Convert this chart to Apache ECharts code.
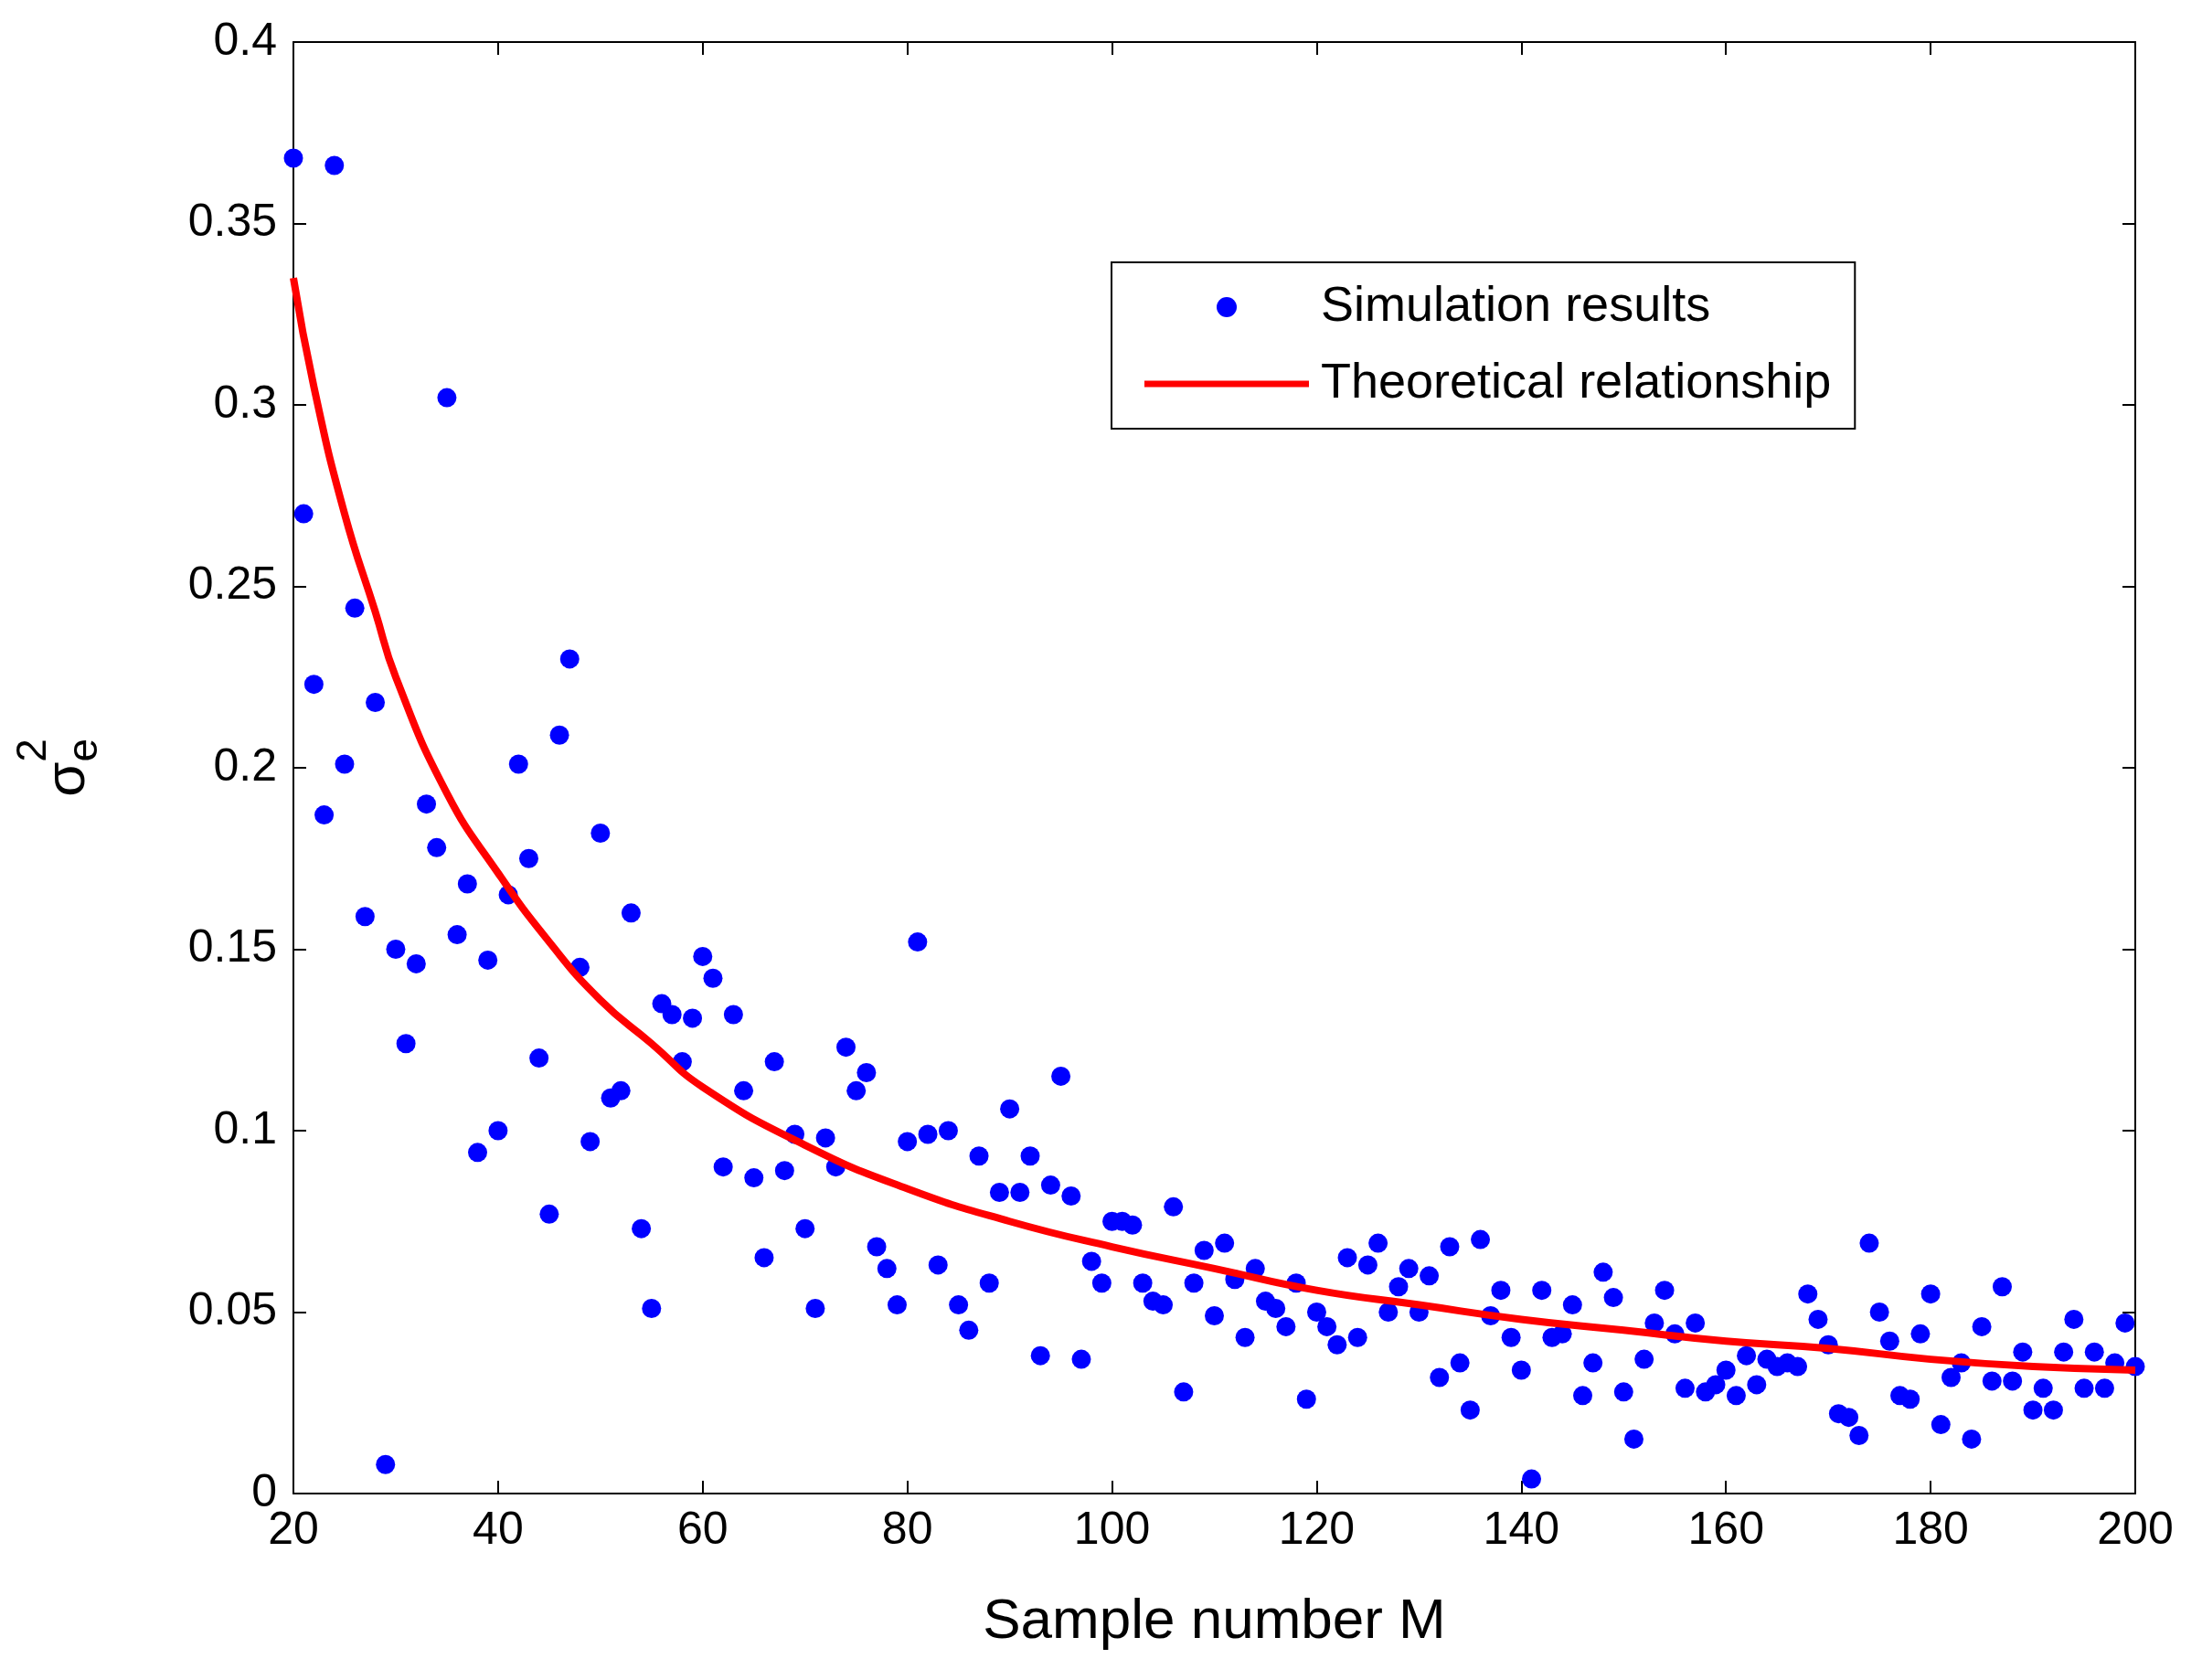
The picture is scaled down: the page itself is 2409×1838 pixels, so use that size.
<!DOCTYPE html>
<html>
<head>
<meta charset="utf-8">
<title></title>
<script src="https://cdn.jsdelivr.net/npm/echarts@6/dist/echarts.min.js"></script>
<style>html,body{margin:0;background:#fff;}</style>
</head>
<body>
<div id="main" style="width:2409px;height:1838px;"></div>
<script>
var sim_start = 20;
var sim_values = [
 0.368,0.270,0.223,0.187,0.366,0.201,0.244,0.159,0.218,0.008,
 0.150,0.124,0.146,0.190,0.178,0.302,0.154,0.168,0.094,0.147,
 0.100,0.165,0.201,0.175,0.120,0.077,0.209,0.230,0.145,0.097,
 0.182,0.109,0.111,0.160,0.073,0.051,0.135,0.132,0.119,0.131,
 0.148,0.142,0.090,0.132,0.111,0.087,0.065,0.119,0.089,0.099,
 0.073,0.051,0.098,0.090,0.123,0.111,0.116,0.068,0.062,0.052,
 0.097,0.152,0.099,0.063,0.100,0.052,0.045,0.093,0.058,0.083,
 0.106,0.083,0.093,0.038,0.085,0.115,0.082,0.037,0.064,0.058,
 0.075,0.075,0.074,0.058,0.053,0.052,0.079,0.028,0.058,0.067,
 0.049,0.069,0.059,0.043,0.062,0.053,0.051,0.046,0.058,0.026,
 0.050,0.046,0.041,0.065,0.043,0.063,0.069,0.050,0.057,0.062,
 0.050,0.060,0.032,0.068,0.036,0.023,0.070,0.049,0.056,0.043,
 0.034,0.004,0.056,0.043,0.044,0.052,0.027,0.036,0.061,0.054,
 0.028,0.015,0.037,0.047,0.056,0.044,0.029,0.047,0.028,0.030,
 0.034,0.027,0.038,0.030,0.037,0.035,0.036,0.035,0.055,0.048,
 0.041,0.022,0.021,0.016,0.069,0.050,0.042,0.027,0.026,0.044,
 0.055,0.019,0.032,0.036,0.015,0.046,0.031,0.057,0.031,0.039,
 0.023,0.029,0.023,0.039,0.048,0.029,0.039,0.029,0.036,0.047,
 0.035
];
var theory_m = [20,22,25,28,30,35,40,45,50,55,60,70,80,90,100,110,120,130,140,150,160,170,180,190,200];
var theory_values = [0.335,0.305,0.270,0.243,0.225,0.193,0.171,0.152,0.136,0.124,0.112,0.096,0.084,0.075,0.068,0.062,0.056,0.052,0.048,0.045,0.042,0.040,0.037,0.035,0.034];

var sim_data = [];
for (var i = 0; i < sim_values.length; i++) sim_data.push([sim_start + i, sim_values[i]]);
var theory_data = [];
for (var j = 0; j < theory_m.length; j++) theory_data.push([theory_m[j], theory_values[j]]);

var font = 'Arial, "Liberation Sans", sans-serif';
var tick = {show: true, inside: true, length: 14, lineStyle: {color: '#000', width: 2}};
var line = {show: true, onZero: false, lineStyle: {color: '#000', width: 2}};

var myChart = echarts.init(document.getElementById('main'));
myChart.setOption({
  backgroundColor: '#fff',
  animation: false,
  grid: {left: 321, right: 73, top: 46, bottom: 204},
  legend: {
    orient: 'vertical', left: 1216, top: 287,
    padding: [22, 26, 22, 36], itemGap: 30,
    borderColor: '#000', borderWidth: 2, backgroundColor: '#fff',
    itemWidth: 180, itemHeight: 22,
    textStyle: {fontFamily: font, fontSize: 54, color: '#000', padding: [0, 0, 0, 8]},
    data: [
      {name: 'Simulation results', icon: 'circle'},
      {name: 'Theoretical relationship', icon: 'path://M0,0H100V4H0Z', itemStyle: {color: '#ff0000'}}
    ]
  },
  xAxis: [{
    type: 'value', min: 20, max: 200, interval: 20,
    name: 'Sample number M', nameLocation: 'middle', nameGap: 110,
    nameTextStyle: {fontFamily: font, fontSize: 62, color: '#000'},
    axisLine: line, axisTick: tick, splitLine: {show: false},
    axisLabel: {fontFamily: font, fontSize: 50, color: '#000', margin: 16}
  }, {
    type: 'value', position: 'top', min: 20, max: 200, interval: 20,
    axisLine: line, axisTick: tick, axisLabel: {show: false}, splitLine: {show: false}
  }],
  yAxis: [{
    type: 'value', min: 0, max: 0.4, interval: 0.05,
    name: '{s|σ}{e|e}{t|2}', nameLocation: 'middle', nameGap: 215, nameRotate: 90,
    nameTextStyle: {rich: {
      s: {fontFamily: font, fontSize: 62, color: '#000'},
      e: {fontFamily: font, fontSize: 46, color: '#000', verticalAlign: 'bottom', padding: [0, 0, -10, 0]},
      t: {fontFamily: font, fontSize: 46, color: '#000', verticalAlign: 'top', padding: [-30, 0, 0, -26]}
    }},
    axisLine: line, axisTick: tick, splitLine: {show: false},
    axisLabel: {fontFamily: font, fontSize: 50, color: '#000', margin: 18,
      formatter: function (v) { return v === 0 ? '0' : String(+v.toFixed(2)); }}
  }, {
    type: 'value', position: 'right', min: 0, max: 0.4, interval: 0.05,
    axisLine: line, axisTick: tick, axisLabel: {show: false}, splitLine: {show: false}
  }],
  series: [{
    name: 'Simulation results', type: 'scatter', data: sim_data,
    symbolSize: 21, itemStyle: {color: '#0000ff', opacity: 1}
  }, {
    name: 'Theoretical relationship', type: 'line', data: theory_data,
    smooth: true, symbol: 'none', lineStyle: {color: '#ff0000', width: 8},
    itemStyle: {color: '#ff0000'}, z: 3
  }]
});
</script>
</body>
</html>
